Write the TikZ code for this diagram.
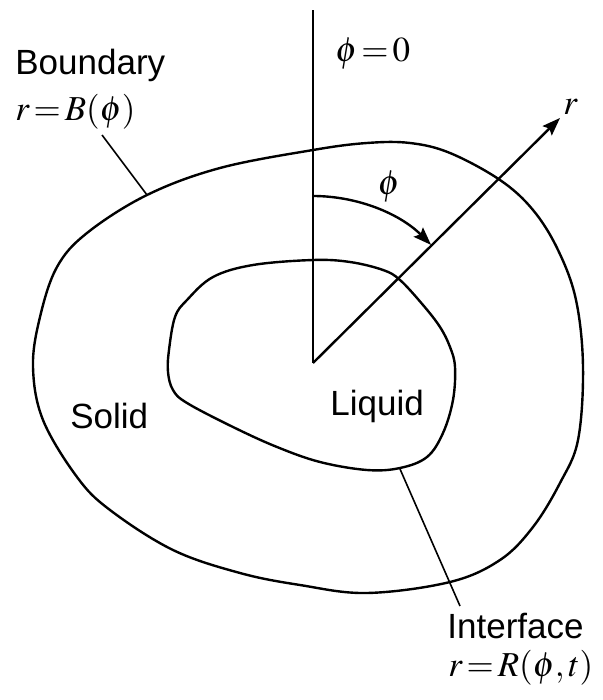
\documentclass[tikz,border=0pt]{standalone}
\usepackage{mathptmx}
\usepackage[no-math]{fontspec}
\setmainfont{Liberation Sans}
\usetikzlibrary{arrows.meta}
\begin{document}
\begin{tikzpicture}[x=0.5pt,y=-0.5pt,
  curve/.style={line width=1.2pt, line join=round},
  thin/.style={line width=0.8pt},
  lbl/.style={font=\fontsize{17.5}{21}\selectfont, inner sep=0pt, anchor=base west},
  mth/.style={font=\fontsize{17.5}{21}\selectfont, inner sep=0pt, anchor=base west}]
\useasboundingbox (0,0) rectangle (603,700);

% outer boundary
\draw[curve] plot[smooth cycle, tension=0.6] coordinates {
 (313,150) (367,143) (410,143) (450,153) (500,180) (533,210) (558,250)
 (576,300) (583,367) (578,440) (560,483) (533,527) (500,560) (450,582)
 (367,593) (300,585) (240,573) (173,550) (110,510) (77,477) (43,420)
 (33,367) (40,317) (57,267) (87,233) (147,195) (220,168)};

% interface
\draw[curve] plot[smooth cycle, tension=0.6] coordinates {
 (313,260) (350,262) (383,270) (400,280) (423,305) (440,327) (450,347)
 (455,367) (453,400) (443,433) (427,457) (400,468) (367,470) (320,462)
 (277,447) (233,427) (187,403) (173,390) (168,372) (169,350) (175,317)
 (187,300) (213,277) (253,265)};

% axes
\coordinate (O) at (313,363);
\coordinate (top) at (313,10);
\coordinate (rtip) at (560,118);
\draw[curve] (O) -- (top);
\draw[curve,-{Stealth[length=9pt,width=6.5pt,inset=1.5pt]}] (O) -- (rtip);
\coordinate (arcstart) at (313,196);
\draw[curve,-{Stealth[length=9pt,width=6.5pt,inset=1.5pt]}] (arcstart) arc[start angle=90,end angle=45,radius=83.5pt];

% labels
\node[lbl] (bnd) at (15,75) {Boundary};
\node[mth] (bndeq) at (15,121) {$r\!=\!B(\phi)$};
\node[mth] (phi0) at (335,62) {$\phi\!=\!0$};
\node[mth] (rl) at (563,115) {$r$};
\node[mth,anchor=center] (phil) at (389,187) {$\phi$};
\node[lbl] (solid) at (70,428) {Solid};
\node[lbl] (liquid) at (330,415) {Liquid};
\node[lbl] (intf) at (447,638) {Interface};
\node[mth] (intfeq) at (448,676) {$r\!=\!R(\phi,t)$};

% leaders
\coordinate (bA) at (147,195);
\coordinate (bB) at (102,135);
\draw[thin] (bA) -- (bB);
\coordinate (iA) at (400,469);
\coordinate (iB) at (460,606);
\draw[thin] (iA) -- (iB);
\end{tikzpicture}
\end{document}
